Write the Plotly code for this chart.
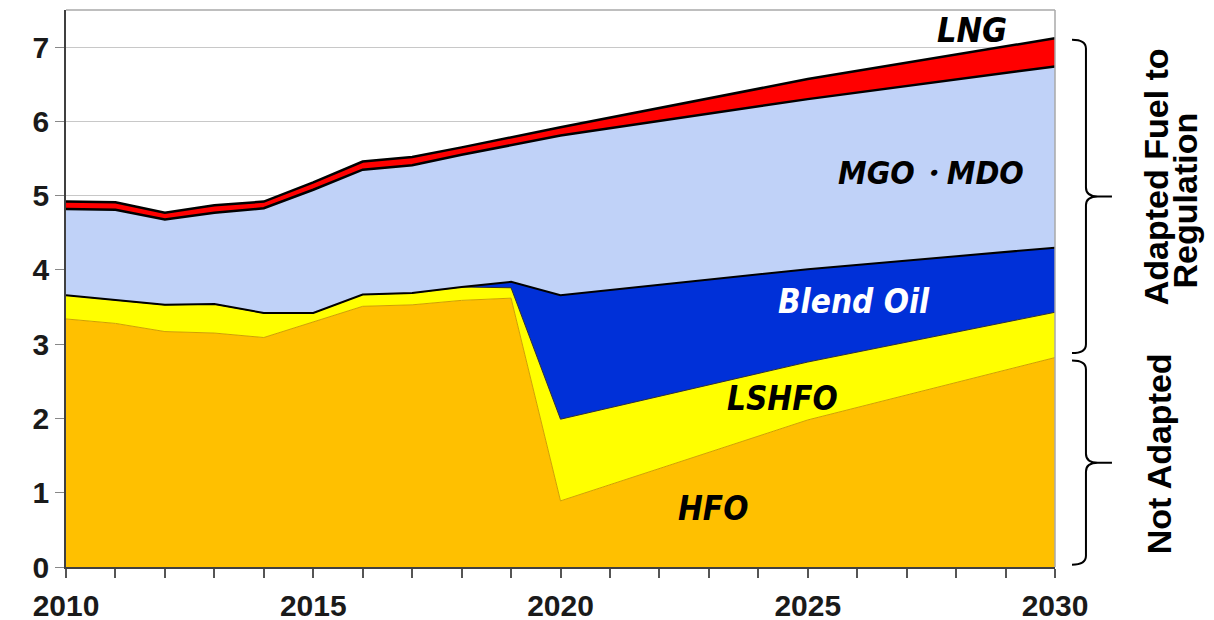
import plotly.graph_objects as go

years = [2010, 2011, 2012, 2013, 2014, 2015, 2016, 2017, 2018, 2019, 2020, 2025, 2030]
hfo   = [3.34, 3.28, 3.17, 3.15, 3.09, 3.30, 3.51, 3.53, 3.59, 3.62, 0.89, 1.98, 2.82]
lshfo = [0.32, 0.32, 0.36, 0.39, 0.33, 0.12, 0.16, 0.16, 0.18, 0.14, 1.10, 0.78, 0.61]
blend = [0.00, 0.00, 0.00, 0.00, 0.00, 0.00, 0.00, 0.00, 0.00, 0.08, 1.67, 1.25, 0.87]
mgo   = [1.16, 1.21, 1.15, 1.23, 1.41, 1.66, 1.68, 1.72, 1.78, 1.84, 2.15, 2.29, 2.44]
lng   = [0.10, 0.10, 0.09, 0.10, 0.09, 0.10, 0.11, 0.11, 0.10, 0.10, 0.11, 0.27, 0.38]

series_names = ["HFO", "LSHFO", "Blend Oil", "MGO・MDO", "LNG"]
x_ticks = [2010, 2015, 2020, 2025, 2030]
y_ticks = [0, 1, 2, 3, 4, 5, 6, 7]

fills = ["#FFC000", "#FFFF00", "#0030D8", "#C0D2F8", "#FF0000"]
lines = [("#D0A000", 1), ("#303030", 1), ("#000000", 2), ("#000000", 2.5), ("#000000", 2.5)]

fig = go.Figure()
for name, vals, fc, (lc, lw) in zip(series_names, [hfo, lshfo, blend, mgo, lng], fills, lines):
    fig.add_trace(go.Scatter(
        x=years, y=vals, name=name, mode="lines", stackgroup="one",
        fillcolor=fc, line=dict(color=lc, width=lw, shape="linear"),
        hoverinfo="x+y+name",
    ))

YMAX = 7.5
tickfont = dict(family="Liberation Sans, Arial, sans-serif", size=30, color="#1a1a1a", weight="bold")
fig.update_layout(
    width=1214, height=620,
    margin=dict(l=58, r=167, t=2, b=61),
    paper_bgcolor="white", plot_bgcolor="white",
    showlegend=False,
    xaxis=dict(range=[2010, 2030], tickvals=x_ticks, ticks="outside", ticklen=9,
               tickcolor="#555", tickwidth=1.5, showgrid=False, zeroline=False,
               showline=True, linecolor="#404040", linewidth=2, tickfont=tickfont,
               minor=dict(dtick=1, ticks="outside", ticklen=9, tickcolor="#555", tickwidth=1.5),
               ticklabelstandoff=2, automargin=False),
    yaxis=dict(range=[0, YMAX], tickvals=y_ticks, ticks="outside", ticklen=9,
               tickcolor="#888", showgrid=True, gridcolor="#C8C8C8", gridwidth=1,
               zeroline=False, showline=True, linecolor="#404040", linewidth=1.5,
               tickfont=tickfont, automargin=False),
)

# frame top and right
fig.add_shape(type="line", xref="paper", yref="paper", x0=0, x1=1, y0=1, y1=1,
              line=dict(color="#A8A8A8", width=1.5), layer="above")
fig.add_shape(type="line", xref="paper", yref="paper", x0=1, x1=1, y0=0, y1=1,
              line=dict(color="#A8A8A8", width=1.5), layer="above")

# in-chart labels
lab_font = "DejaVu Sans Condensed, DejaVu Sans, Liberation Sans, Arial"
labels = [
    ("LNG", 2028.32, 7.23, "black", 34),
    ("MGO・MDO", 2027.49, 5.30, "black", 32),
    ("Blend Oil", 2025.94, 3.57, "white", 33),
    ("LSHFO", 2024.48, 2.27, "black", 33),
    ("HFO", 2023.08, 0.79, "black", 33),
]
for txt, lx, ly, col, sz in labels:
    fig.add_annotation(x=lx, y=ly, xref="x", yref="y", text=txt, showarrow=False,
                       xanchor="center", yanchor="middle",
                       font=dict(family=lab_font, size=sz, color=col, weight="bold", style="italic"))

# brackets on the right
total_2030 = hfo[-1] + lshfo[-1] + blend[-1] + mgo[-1] + lng[-1]
split = hfo[-1]
xe, xv, xt = 1.0172, 1.0313, 1.0576
c = 0.12


def brace(top, bot):
    mid = (top + bot) / 2
    return (f"M {xe},{top} Q {xv},{top} {xv},{top - c} L {xv},{mid + c} "
            f"Q {xv},{mid} {xv + 0.012},{mid} L {xt},{mid} "
            f"M {xv + 0.012},{mid} Q {xv},{mid} {xv},{mid - c} L {xv},{bot + c} "
            f"Q {xv},{bot} {xe},{bot}")


fig.add_shape(type="path", xref="paper", yref="y", path=brace(total_2030 - 0.02, split + 0.06),
              line=dict(color="black", width=2))
fig.add_shape(type="path", xref="paper", yref="y", path=brace(split - 0.04, 0.03),
              line=dict(color="black", width=2))

side_font = dict(family="Liberation Sans, Arial, sans-serif", size=34, color="black", weight="bold")
side_labels = [
    ("Adapted Fuel to", 1.102, 5.26),
    ("Regulation", 1.131, 4.93),
    ("Not Adapted", 1.106, 1.53),
]
for txt, sx, sy in side_labels:
    fig.add_annotation(x=sx, y=sy, xref="paper", yref="y", text=txt, showarrow=False,
                       xanchor="center", yanchor="middle", textangle=-90, font=side_font)

fig.write_html("out.html")
